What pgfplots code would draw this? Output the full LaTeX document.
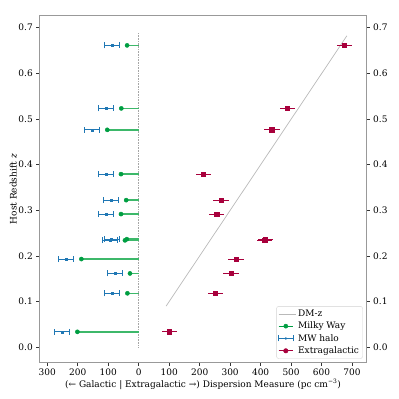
\documentclass[border=0pt]{standalone}
\usepackage{fontspec}
\setmainfont{DejaVu Serif}
\usepackage{pgfplots}
\usepackage{pgfplotstable}
\pgfplotsset{compat=1.18}

\definecolor{mwgreen}{HTML}{009E42}
\definecolor{mwline}{HTML}{3DB86A}
\definecolor{halob}{HTML}{1F77B4}
\definecolor{exred}{HTML}{A8003C}

% z, Milky Way ISM (plotted negative), its length, halo, extragalactic
\pgfplotstableread{
z      gal    glen   halo    ext
0.661  -38    38     -88     675
0.523  -57    57     -107    487
0.476  -103   103    -153    437
0.379  -58    58     -108    212
0.322  -41    41     -91     270
0.2915 -58    58     -108    256
0.2365 -39    39     -89     416
0.234  -45    45     -95     413
0.193  -188   188    -239    319
0.1615 -28.5  28.5   -78.5   303
0.118  -37    37     -87     252
0.0336 -201   201    -251    100
}\frbs

\begin{document}
\begin{tikzpicture}
\pgfplotsset{
  every axis/.append style={
    font=\fontsize{9}{10}\selectfont,
    /pgf/number format/assume math mode=true,
    scale only axis, width=327.4pt, height=347pt,
    xmin=-326, xmax=748, ymin=-0.034, ymax=0.726,
    ytick={0,0.1,...,0.7},
    yticklabel style={/pgf/number format/.cd, fixed, fixed zerofill, precision=1},
    tick align=outside, major tick length=3pt,
    tick style={black!80, line width=0.5pt},
    axis line style={gray!80, line width=0.8pt},
  }
}
\begin{axis}[
  xtick={-300,-200,-100,0,100,200,300,400,500,600,700},
  xticklabels={300,200,100,0,100,200,300,400,500,600,700},
  xtick pos=left, ytick pos=left,
  xlabel={(← Galactic | Extragalactic →) Dispersion Measure (pc cm\textsuperscript{−3})},
  ylabel={Host Redshift \textit{z}},
  xlabel style={at={(axis description cs:0.5,-0.0614)}, anchor=center},
  ylabel style={at={(axis description cs:-0.0794,0.5)}, anchor=center},
  legend cell align=left,
  legend style={at={(1,0)}, anchor=south east, xshift=-4pt, yshift=4pt,
    draw=gray!35, rounded corners=2pt, inner sep=1.5pt, row sep=0pt,
    font=\fontsize{9}{11}\selectfont},
]
\draw[gray!70, densely dotted, line width=0.6pt] (axis cs:0,0) -- (axis cs:0,0.69);

\addplot[gray!55, line width=0.7pt] coordinates {(90,0.09) (683,0.682)};
\addlegendentry{DM-z}

\addplot[only marks, mark=*, mark size=2.1pt, color=mwgreen,
  legend image code/.code={
    \draw[mwgreen, line width=1.2pt] (0cm,0cm) -- (0.5cm,0cm);
    \fill[mwgreen] (0.25cm,0cm) circle (2.1pt);},
  error bars/.cd, x dir=plus, x explicit, error mark=none,
  error bar style={color=mwline, solid, line width=1.4pt}]
  table[x=gal, y=z, x error=glen] {\frbs};
\addlegendentry{Milky Way}

\addplot[only marks, mark=square*, mark size=1pt, color=halob,
  legend image code/.code={
    \draw[halob, line width=0.8pt] (0cm,0cm) -- (0.5cm,0cm);
    \draw[halob, line width=0.8pt] (0cm,-3pt) -- (0cm,3pt);
    \draw[halob, line width=0.8pt] (0.5cm,-3pt) -- (0.5cm,3pt);
    \fill[halob] (0.25cm,0cm) circle (1pt);},
  error bars/.cd, x dir=both, x fixed=25, error mark=|,
  error mark options={draw=halob, mark size=3pt, line width=0.8pt},
  error bar style={draw=halob, line width=0.8pt}]
  table[x=halo, y=z] {\frbs};
\addlegendentry{MW halo}

\addplot[only marks, mark=square*, mark size=2.2pt, color=exred,
  legend image code/.code={
    \draw[exred, line width=0.9pt] (0cm,0cm) -- (0.5cm,0cm);
    \fill[exred] (0.25cm,0cm) ++(-2.2pt,-2.2pt) rectangle ++(4.4pt,4.4pt);},
  error bars/.cd, x dir=both, x fixed=25, error mark=none,
  error bar style={draw=exred, line width=0.9pt}]
  table[x=ext, y=z] {\frbs};
\addlegendentry{Extragalactic}
\end{axis}

\begin{axis}[
  hide x axis,
  axis y line*=right,
  ytick pos=right, yticklabel pos=right,
]
\addplot[draw=none] coordinates {(0,0)};
\end{axis}

\pgfresetboundingbox
\path ([shift={(-39.3pt,-36.3pt)}]current axis.south west) rectangle ([shift={(32.3pt,15.7pt)}]current axis.north east);
\end{tikzpicture}
\end{document}
